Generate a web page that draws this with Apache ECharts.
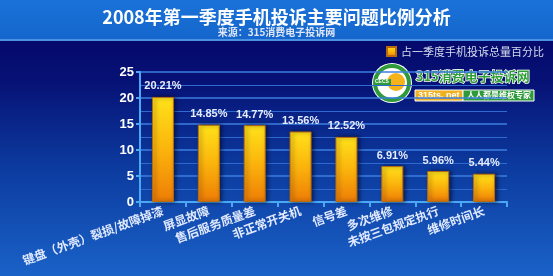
<!DOCTYPE html>
<html><head><meta charset="utf-8">
<script src="https://cdn.jsdelivr.net/npm/echarts@6/dist/echarts.min.js"></script>
<style>html,body{margin:0;padding:0;}#c{width:553px;height:276px;}</style>
</head><body><div id="c"></div>
<script>
const categories = ['键盘（外壳）裂损/故障掉漆','屏显故障','售后服务质量差','非正常开关机','信号差','多次维修','未按三包规定执行','维修时间长'];
const values = [20.21, 14.85, 14.77, 13.56, 12.52, 6.91, 5.96, 5.44];
const seriesName = '占一季度手机投诉总量百分比';
const titleText = '2008年第一季度手机投诉主要问题比例分析';
const subText = '来源：315消费电子投诉网';

const cjk = '"Noto Sans CJK SC", "Liberation Sans", sans-serif';
const chart = echarts.init(document.getElementById('c'));
chart.setOption({
  animation: false,
  backgroundColor: new echarts.graphic.LinearGradient(0,0,0,1,[
    {offset:0, color:'#1a72d8'},
    {offset:0.14, color:'#1466cc'},
    {offset:0.141, color:'#4c92e2'},
    {offset:0.149, color:'#4c92e2'},
    {offset:0.15, color:'#05096c'},
    {offset:0.3, color:'#071276'},
    {offset:0.6, color:'#0c3a9e'},
    {offset:1, color:'#1a62c8'}
  ]),
  title: {
    text: titleText, subtext: subText, left: 'center', top: 3, itemGap: 1,
    textStyle: {color:'#ffffff', fontSize:18, fontWeight:'bold', fontFamily: cjk},
    subtextStyle: {color:'#e0e6f5', fontSize:10, fontWeight:'bold', fontFamily: cjk}
  },
  legend: {
    data: [seriesName], right: 4, top: 41, itemWidth: 9, itemHeight: 9, icon: 'rect',
    textStyle: {color:'#d4dcec', fontSize:11, fontFamily: cjk}
  },
  grid: {left: 140, right: 46, top: 72, bottom: 74},
  xAxis: {
    type: 'category', data: categories,
    axisLine: {lineStyle: {color:'#4aa8f5', width:2}},
    axisTick: {show:true, alignWithLabel:false, length:5, lineStyle:{color:'#4aa8f5', width:2}},
    axisLabel: {rotate: 20, margin: 8, interval: 0, color:'#e2eaff', fontSize:12, fontWeight:'bold', fontFamily: cjk}
  },
  yAxis: {
    type: 'value', min: 0, max: 25, interval: 5,
    axisLine: {show:true, lineStyle: {color:'#4aa8f5', width:2}},
    axisTick: {show:true, length:4, lineStyle:{color:'#4aa8f5', width:2}},
    axisLabel: {color:'#ffffff', fontSize:13, fontWeight:'bold', fontFamily:'"Liberation Sans", Arial, sans-serif', margin:6},
    splitLine: {show:true, lineStyle:{color:'#3c7ee0', width:1.5}},
    minorTick: {show:false, splitNumber:2},
    minorSplitLine: {show:true, lineStyle:{color:'#2f6ad0', width:1}}
  },
  series: [{
    name: seriesName, type: 'bar', data: values, barWidth: 22,
    itemStyle: {
      color: new echarts.graphic.LinearGradient(0,0,0,1,[
        {offset:0, color:'#ffe21a'},
        {offset:0.5, color:'#fbb40c'},
        {offset:1, color:'#ee7c06'}
      ]),
      borderColor: '#b86a10', borderWidth: 1,
      shadowColor: 'rgba(0,0,20,0.6)', shadowBlur: 4, shadowOffsetX: 2
    },
    label: {show:true, position:'top', distance:5, formatter: p => p.value.toFixed(2)+'%',
      color:'#e8eeff', fontSize:11, fontWeight:'bold', fontFamily:'"Liberation Sans", Arial, sans-serif'}
  }],
  graphic: [
    {type:'circle', shape:{cx:392, cy:83, r:20}, style:{fill:'#ffffff'}},
    {type:'circle', shape:{cx:392, cy:83, r:17}, style:{fill:'none', stroke:'#2e9a3a', lineWidth:4}},
    {type:'circle', shape:{cx:396, cy:82, r:9}, style:{fill:'#f5b21a'}},
    {type:'rect', shape:{x:375, y:79, width:16, height:7}, style:{fill:'#2e9a3a'}},
    {type:'text', left:375, top:79, style:{text:'CECS', fill:'#ffffff', font:'bold 5px sans-serif'}},
    {type:'text', left:415, top:69, style:{text:'315消费电子投诉网', fill:'#2e9e36', stroke:'#ffffff', lineWidth:1.5, font:'bold 13px "Noto Sans CJK SC", sans-serif'}},
    {type:'rect', shape:{x:415, y:90, width:48, height:11}, style:{fill:'#f0b020', stroke:'#ffffff', lineWidth:1}},
    {type:'text', left:418, top:91, style:{text:'315ts. net', fill:'#ffffff', font:'bold 9px "Liberation Sans", sans-serif'}},
    {type:'rect', shape:{x:463, y:90, width:71, height:11}, style:{fill:'#2e9a3a', stroke:'#ffffff', lineWidth:1}},
    {type:'text', left:467, top:91, style:{text:'人人都是维权专家', fill:'#ffffff', font:'bold 8px "Noto Sans CJK SC", sans-serif'}}
  ]
});
</script></body></html>
